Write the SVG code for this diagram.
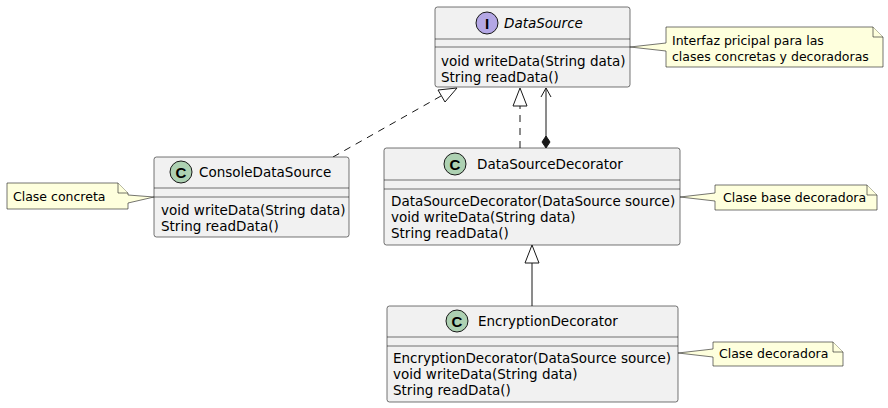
<svg xmlns="http://www.w3.org/2000/svg" width="888" height="408" viewBox="0 0 888 408">
<defs>
<style>
.box{fill:#F1F1F1;stroke:#181818;stroke-width:0.6}
.sep{stroke:#181818;stroke-width:0.6}
.note{fill:#FEFFDD;stroke:#181818;stroke-width:0.6}
.t{font-family:"DejaVu Sans",sans-serif;font-size:13.5px;fill:#000}
.nt{font-family:"DejaVu Sans",sans-serif;font-size:12.5px;fill:#000}
.spotC{fill:#ADD1B2;stroke:#181818;stroke-width:1}
.spotI{fill:#B4A7E5;stroke:#181818;stroke-width:1}
.sl{font-family:"Liberation Sans",sans-serif;font-size:15px;font-weight:bold;fill:#000;text-anchor:middle}
.ln{fill:none;stroke:#181818;stroke-width:1}
.dash{stroke-dasharray:7,6}
</style>
</defs>

<g id="connectors">
<line class="ln dash" x1="333" y1="157" x2="441" y2="96"/>
<polygon points="457,88 438,90 445,102" fill="#fff" stroke="#181818" stroke-width="1"/>
<line class="ln dash" x1="520" y1="148" x2="520" y2="106"/>
<polygon points="520,88 513,106 527,106" fill="#fff" stroke="#181818" stroke-width="1"/>
<line class="ln" x1="546" y1="88" x2="546" y2="137"/>
<polyline class="ln" points="541,97 546,88 551,97"/>
<polygon points="546,136 550,142 546,148 542,142" fill="#181818" stroke="#181818" stroke-width="1"/>
<line class="ln" x1="532" y1="306" x2="532" y2="263"/>
<polygon points="532,245 525,263 539,263" fill="#fff" stroke="#181818" stroke-width="1"/>
</g>

<g id="DataSource">
<rect class="box" x="435" y="7" width="195" height="80" rx="2.5"/>
<line class="sep" x1="435" y1="39" x2="630" y2="39"/>
<line class="sep" x1="435" y1="47" x2="630" y2="47"/>
<circle class="spotI" cx="487" cy="23" r="11"/>
<text class="sl" x="487" y="28.5">I</text>
<text class="t" x="504" y="28" font-style="italic">DataSource</text>
<text class="t" x="441" y="66">void writeData(String data)</text>
<text class="t" x="441" y="82">String readData()</text>
</g>

<g id="note1">
<path class="note" d="M666,27 L873,27 L883,37 L883,67 L666,67 L666,51 L630,47 L666,43 Z"/>
<path class="note" d="M873,27 L873,37 L883,37"/>
<text class="nt" x="672" y="45">Interfaz pricipal para las</text>
<text class="nt" x="672" y="61">clases concretas y decoradoras</text>
</g>

<g id="ConsoleDataSource">
<rect class="box" x="154" y="157" width="195" height="80" rx="2.5"/>
<line class="sep" x1="154" y1="188" x2="349" y2="188"/>
<line class="sep" x1="154" y1="197" x2="349" y2="197"/>
<circle class="spotC" cx="181" cy="172" r="11"/>
<text class="sl" x="181" y="177.5">C</text>
<text class="t" x="199" y="177">ConsoleDataSource</text>
<text class="t" x="161" y="215">void writeData(String data)</text>
<text class="t" x="161" y="231">String readData()</text>
</g>

<g id="note2">
<path class="note" d="M7,183 L118,183 L128,193 L128,195 L154,197 L128,203 L128,209 L7,209 Z"/>
<path class="note" d="M118,183 L118,193 L128,193"/>
<text class="nt" x="13" y="201">Clase concreta</text>
</g>

<g id="DataSourceDecorator">
<rect class="box" x="384" y="148" width="296" height="97" rx="2.5"/>
<line class="sep" x1="384" y1="180" x2="680" y2="180"/>
<line class="sep" x1="384" y1="189" x2="680" y2="189"/>
<circle class="spotC" cx="455" cy="164" r="11"/>
<text class="sl" x="455" y="169.5">C</text>
<text class="t" x="477" y="169">DataSourceDecorator</text>
<text class="t" x="391" y="206">DataSourceDecorator(DataSource source)</text>
<text class="t" x="391" y="222">void writeData(String data)</text>
<text class="t" x="391" y="238">String readData()</text>
</g>

<g id="note3">
<path class="note" d="M715,185 L867,185 L877,195 L877,210 L715,210 L715,201 L680,197 L715,193 Z"/>
<path class="note" d="M867,185 L867,195 L877,195"/>
<text class="nt" x="723" y="202">Clase base decoradora</text>
</g>

<g id="EncryptionDecorator">
<rect class="box" x="387" y="306" width="291" height="96" rx="2.5"/>
<line class="sep" x1="387" y1="337" x2="678" y2="337"/>
<line class="sep" x1="387" y1="346" x2="678" y2="346"/>
<circle class="spotC" cx="457" cy="321" r="11"/>
<text class="sl" x="457" y="326.5">C</text>
<text class="t" x="478" y="326">EncryptionDecorator</text>
<text class="t" x="393" y="363">EncryptionDecorator(DataSource source)</text>
<text class="t" x="393" y="379">void writeData(String data)</text>
<text class="t" x="393" y="395">String readData()</text>
</g>

<g id="note4">
<path class="note" d="M713,342 L833,342 L843,352 L843,366 L713,366 L713,357 L678,353 L713,349 Z"/>
<path class="note" d="M833,342 L833,352 L843,352"/>
<text class="nt" x="719" y="358">Clase decoradora</text>
</g>
</svg>
